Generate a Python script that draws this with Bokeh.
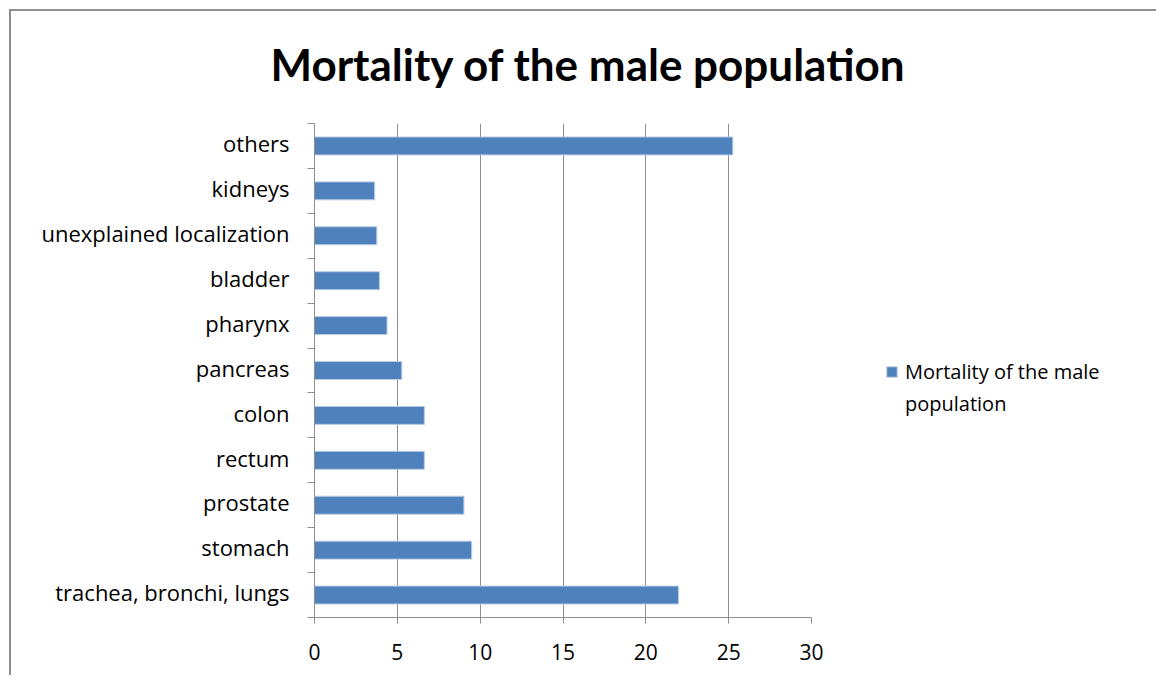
from bokeh.plotting import figure
from bokeh.models import Range1d, FixedTicker, Legend, LegendItem
from bokeh.embed import file_html
from bokeh.resources import INLINE

categories = ["trachea, bronchi, lungs", "stomach", "prostate", "rectum", "colon",
              "pancreas", "pharynx", "bladder", "unexplained localization", "kidneys", "others"]
values = [21.97, 9.49, 9.02, 6.63, 6.63, 5.27, 4.38, 3.92, 3.76, 3.63, 25.25]
x_ticks = [0, 5, 10, 15, 20, 25, 30]
title_text = "Mortality of the male population"
legend_lines = ["Mortality of the male", "population"]

TITLE_FONT = "Lato"
FONT = "Open Sans"
GRAY = "#8e8e8e"
BAR = "#4f81bd"

centers = [i + 0.5 for i in range(len(categories))]
label_pos = [c + 0.0625 for c in centers]
bounds = list(range(len(categories) + 1))

p = figure(frame_width=497, frame_height=494,
           min_border_left=314, min_border_right=339, min_border_top=123, min_border_bottom=58,
           x_range=Range1d(0, 30), y_range=Range1d(0, len(categories)),
           output_backend="svg", toolbar_location=None,
           title=title_text,
           styles={"background": "linear-gradient(#8e8e8e,#8e8e8e) 9px 9px / 2px 100% no-repeat, "
                                 "linear-gradient(#8e8e8e,#8e8e8e) 9px 9px / 100% 2px no-repeat, white"})
p.outline_line_color = None
p.background_fill_color = "white"
p.border_fill_color = None

p.title.align = "left"
p.title.offset = -44
p.title.standoff = 67
p.title.text_font = TITLE_FONT
p.title.text_font_style = "bold"
p.title.text_font_size = "44px"
p.title.text_color = "black"

r = p.hbar(y=centers, right=values, left=0, height=0.4, fill_color=BAR,
           line_color="#b9cde5", line_width=1)
r_blank = p.hbar(y=[0], right=[0], left=0, height=0, fill_alpha=0, line_alpha=0)

# x axis
p.xaxis.ticker = FixedTicker(ticks=x_ticks, minor_ticks=[])
p.xaxis.axis_line_color = GRAY
p.xaxis.major_tick_line_color = GRAY
p.xaxis.major_tick_out = 6
p.xaxis.major_tick_in = 0
p.xaxis.minor_tick_line_color = None
p.xaxis.major_label_text_font = FONT
p.xaxis.major_label_text_font_size = "21px"
p.xaxis.major_label_text_color = "black"
p.xaxis.major_label_standoff = 20

# y axis
p.yaxis.ticker = FixedTicker(ticks=label_pos, minor_ticks=bounds)
p.yaxis.major_label_overrides = {c: n for c, n in zip(label_pos, categories)}
p.yaxis.axis_line_color = GRAY
p.yaxis.major_tick_line_color = None
p.yaxis.major_tick_out = 0
p.yaxis.major_tick_in = 0
p.yaxis.minor_tick_line_color = GRAY
p.yaxis.minor_tick_out = 7
p.yaxis.minor_tick_in = 0
p.yaxis.major_label_text_font = FONT
p.yaxis.major_label_text_font_size = "22px"
p.yaxis.major_label_text_color = "black"
p.yaxis.major_label_standoff = 18

p.xgrid.grid_line_color = GRAY
p.ygrid.grid_line_color = None

# legend
legend = Legend(items=[LegendItem(label=legend_lines[0], renderers=[r]),
                       LegendItem(label=legend_lines[1], renderers=[r_blank])],
                location=(74, 200), glyph_width=13, glyph_height=13,
                label_standoff=7, padding=0, margin=0, spacing=5,
                border_line_color=None, background_fill_alpha=0,
                label_text_font=FONT, label_text_font_size="20px",
                label_text_color="black")
p.add_layout(legend, "right")

open("out.html", "w").write(file_html(p, INLINE))
